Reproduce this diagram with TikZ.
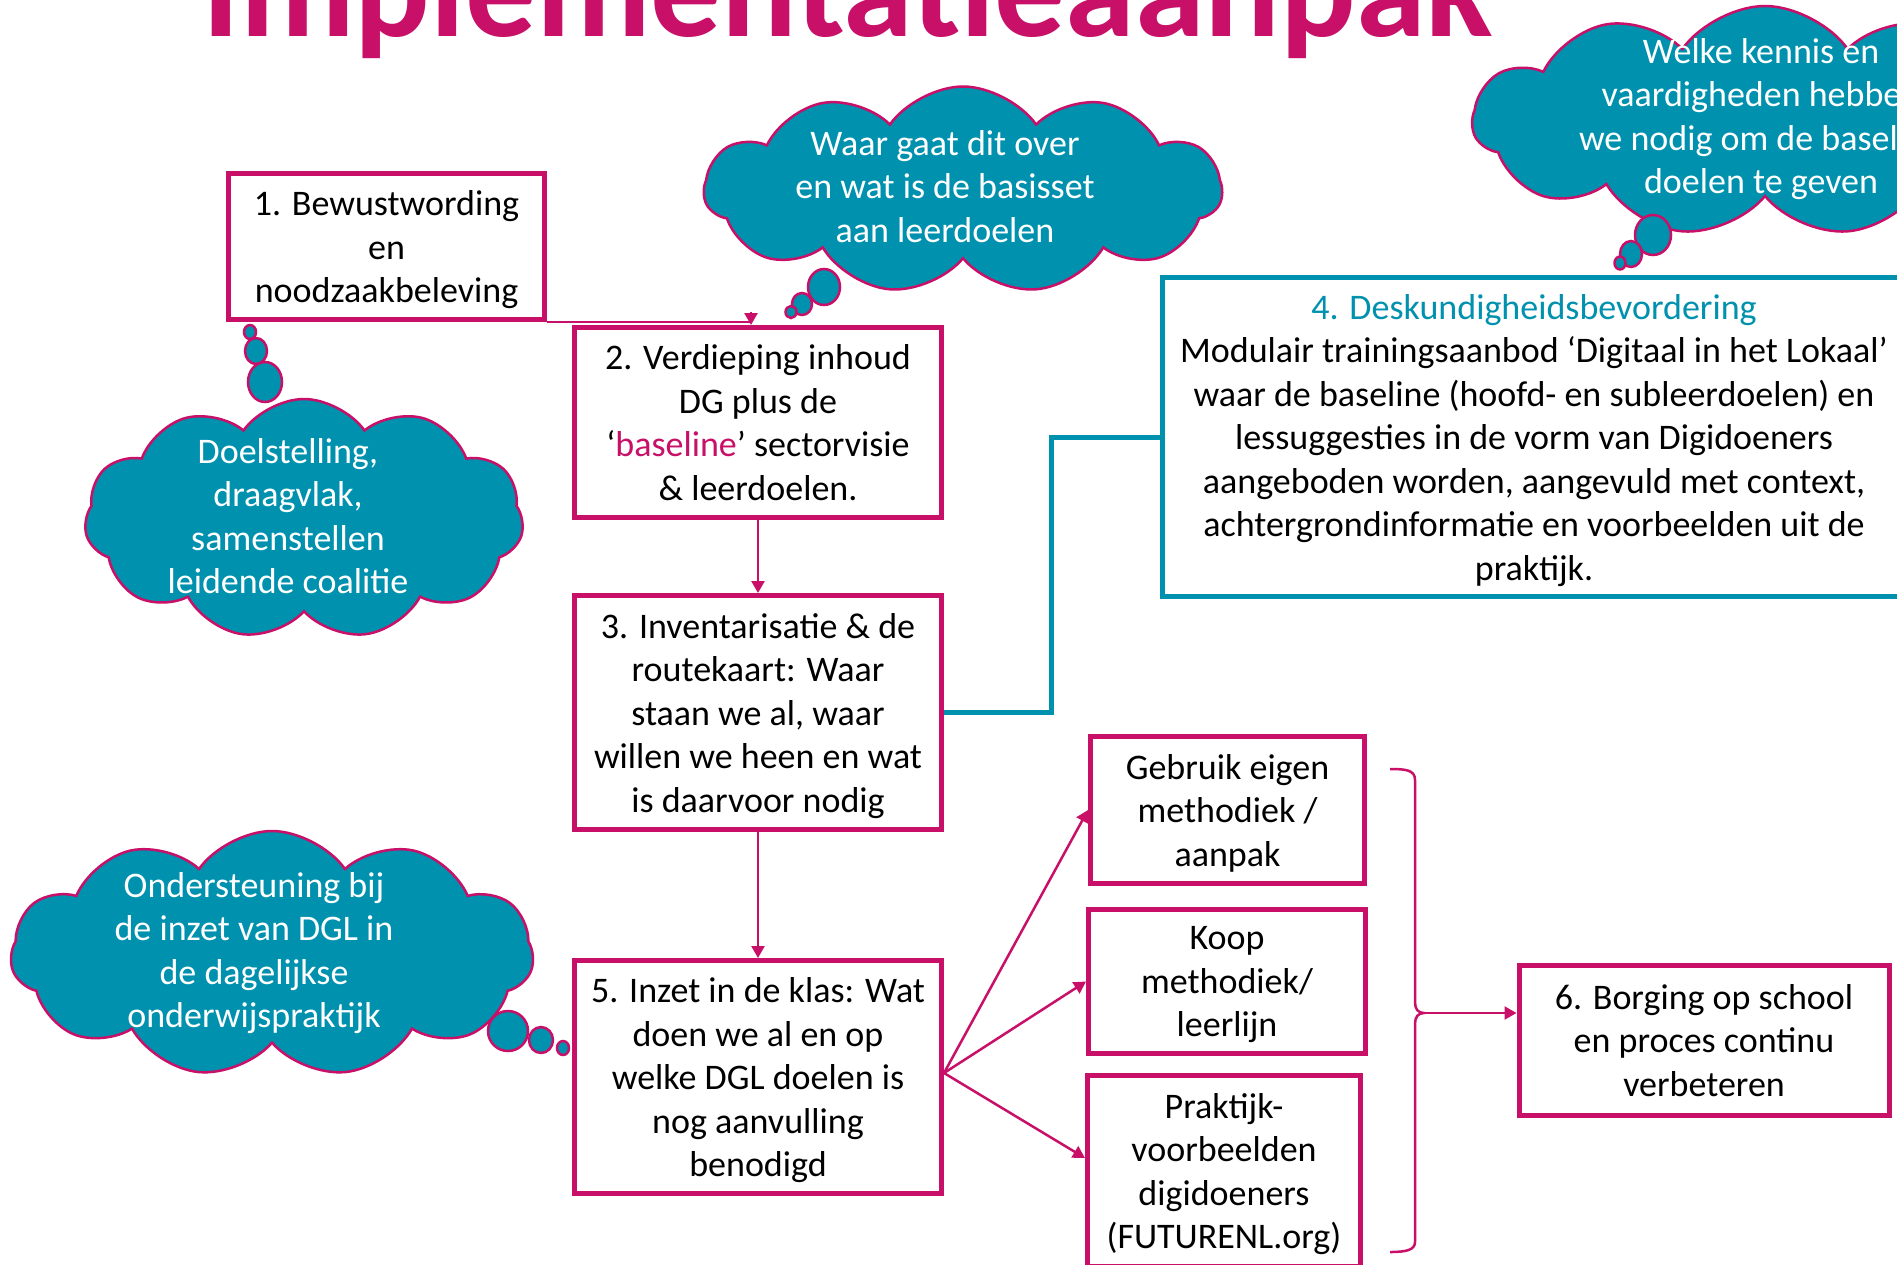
\documentclass[tikz,border=0pt]{standalone}
\usepackage{fontspec}
\setmainfont{Carlito}
\usetikzlibrary{shapes.symbols,arrows.meta,calc}
\definecolor{mag}{RGB}{200,16,104}
\definecolor{tl}{RGB}{0,145,174}
\begin{document}
\begin{tikzpicture}[x=1pt,y=-1pt,
  pbox/.style={draw=mag, line width=5pt, fill=white, rectangle, align=center, inner sep=0pt, font=\fontsize{36}{43.5}\selectfont, text=black, text depth=0pt},
  conn/.style={draw=mag, line width=2.5pt, -{Triangle[length=12pt,width=13pt]}},
  puff/.style={cloud, cloud puffs=11, cloud puff arc=110, cloud ignores aspect, fill=tl, draw=mag, line width=2.5pt, inner sep=0pt},
  bubble/.style={fill=tl, draw=mag, line width=2.5pt},
  ctext/.style={align=center, text=white, font=\fontsize{36}{43.5}\selectfont, inner sep=0pt, text depth=0pt}
]
\path[use as bounding box] (0,0) rectangle (1897,1264);
\clip (0,0) rectangle (1897,1264);

% title
\node[font=\fontsize{141}{141}\selectfont\bfseries, text=mag, anchor=base, inner sep=0pt] (title) at (848,36) {Implementatieaanpak};

% clouds
\node[puff, minimum width=518pt, minimum height=207pt] (c1) at (963,190) {};
\node[puff, minimum width=585pt, minimum height=230pt] (c2) at (1765,121) {};
\node[puff, minimum width=439pt, minimum height=240pt] (c3) at (304,519) {};
\node[puff, minimum width=523pt, minimum height=246pt] (c4) at (272,954) {};

% thought bubbles
\filldraw[bubble] (824,287) ellipse [x radius=16pt, y radius=18pt];
\filldraw[bubble] (802,304) ellipse [x radius=10pt, y radius=11pt];
\filldraw[bubble] (791,312) ellipse [x radius=5.5pt, y radius=6pt];
\filldraw[bubble] (1653,235) ellipse [x radius=18pt, y radius=20pt];
\filldraw[bubble] (1631,254) ellipse [x radius=11pt, y radius=13pt];
\filldraw[bubble] (1620,263) ellipse [x radius=5.5pt, y radius=6.5pt];
\filldraw[bubble] (265,382) ellipse [x radius=17pt, y radius=20pt];
\filldraw[bubble] (256,351) ellipse [x radius=11pt, y radius=13pt];
\filldraw[bubble] (250,332) ellipse [x radius=6pt, y radius=7pt];
\filldraw[bubble] (508,1031) ellipse [x radius=20pt, y radius=20pt];
\filldraw[bubble] (541,1040) ellipse [x radius=12pt, y radius=13pt];
\filldraw[bubble] (563,1048) ellipse [x radius=6pt, y radius=7pt];

% cloud texts
\node[ctext] (t1) at (945,186) {Waar gaat dit over\\en wat is de basisset\\aan leerdoelen};
\node[ctext] (t2) at (1761,116) {Welke kennis en\\vaardigheden hebben\\we nodig om de baseline\\doelen te geven};
\node[ctext] (t3) at (288,516) {Doelstelling,\\draagvlak,\\samenstellen\\leidende coalitie};
\node[ctext] (t4) at (254,950) {Ondersteuning bij\\de inzet van DGL in\\de dagelijkse\\onderwijspraktijk};

% boxes
\node[pbox, minimum width=316pt, minimum height=146pt] (box1) at (386.5,246.5) {1. Bewustwording\\en\\noodzaakbeleving};
\node[pbox, minimum width=367pt, minimum height=190pt] (box2) at (758,422.5) {2. Verdieping inhoud\\DG plus de\\‘\textcolor{mag}{baseline}’ sectorvisie\\\& leerdoelen.};
\node[pbox, minimum width=367pt, minimum height=234pt] (box3) at (758,712.5) {3. Inventarisatie \& de\\routekaart: Waar\\staan we al, waar\\willen we heen en wat\\is daarvoor nodig};
\node[pbox, minimum width=367pt, minimum height=233pt] (box5) at (758,1077) {5. Inzet in de klas: Wat\\doen we al en op\\welke DGL doelen is\\nog aanvulling\\benodigd};
\node[pbox, draw=tl, minimum width=743pt, minimum height=319pt] (box4) at (1534,437) {\textcolor{tl}{4. Deskundigheidsbevordering}\\Modulair trainingsaanbod ‘Digitaal in het Lokaal’\\waar de baseline (hoofd- en subleerdoelen) en\\lessuggesties in de vorm van Digidoeners\\aangeboden worden, aangevuld met context,\\achtergrondinformatie en voorbeelden uit de\\praktijk.};
\node[pbox, minimum width=274pt, minimum height=147pt] (boxA) at (1227.5,810) {Gebruik eigen\\methodiek /\\aanpak};
\node[pbox, minimum width=277pt, minimum height=144pt] (boxB) at (1227,981.5) {Koop\\methodiek/\\leerlijn};
\node[pbox, minimum width=273pt, minimum height=191pt] (boxC) at (1224,1171) {Praktijk-\\voorbeelden\\digidoeners\\(FUTURENL.org)};
\node[pbox, minimum width=370pt, minimum height=150pt] (box6) at (1704,1040) {6. Borging op school\\en proces continu\\verbeteren};

% connectors
\draw[mag, line width=2.5pt] (box1.south east) -- ($(box1.south east -| box2.north)+(-7,0)$);
\draw[conn] ($(box2.north)+(-7,-13)$) -- ($(box2.north)+(-7,0)$);
\draw[conn] (box2.south) -- (box3.north);
\draw[conn] (box3.south) -- (box5.north);
\draw[tl, line width=5pt] (box3.east) -- ++(107,0) |- (box4.west);
\coordinate (fan) at ($(box5.east)+(0,-4)$);
\draw[conn] (fan) -- (boxA.west);
\draw[conn] (fan) -- (boxB.west);
\draw[conn] (fan) -- ($(boxC.west)+(0,-13)$);

% brace
\draw[mag, line width=2.5pt] (1390,769) .. controls (1406,769) and (1415,770) .. (1415,780) -- (1415,1002) .. controls (1415,1009) and (1418,1013) .. (1424,1013) coordinate (btip) .. controls (1418,1013) and (1415,1017) .. (1415,1024) -- (1415,1242) .. controls (1415,1250) and (1406,1252) .. (1390,1252);
\draw[conn] (btip) -- (btip -| box6.west);
\end{tikzpicture}
\end{document}
